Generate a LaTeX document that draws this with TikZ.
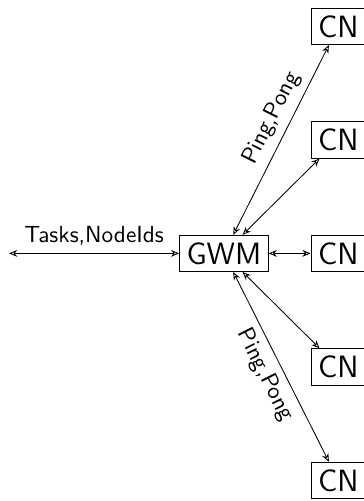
\documentclass[tikz,border=0pt]{standalone}
\usetikzlibrary{arrows.meta}

\begin{document}
\begin{tikzpicture}[
  font=\sffamily\fontsize{10.9}{13}\selectfont,
  box/.style={draw, font=\sffamily\Large},
  link/.style={{Stealth[open,length=3.8pt,width=3.2pt]}-{Stealth[open,length=3.8pt,width=3.2pt]}}
]
\useasboundingbox (-3.68,-4.07) rectangle (2.30,4.165);

% master
\node[box] (gwm) at (0,0) {GWM};

% compute nodes
\node[box] (cn1) at (1.88,3.73) {CN};
\node[box] (cn2) at (1.88,1.865) {CN};
\node[box] (cn3) at (1.88,0) {CN};
\node[box] (cn4) at (1.88,-1.865) {CN};
\node[box] (cn5) at (1.88,-3.73) {CN};

% incoming side
\coordinate (src) at (-3.53,0);
\draw[link] (src) -- node[above] {Tasks,NodeIds} (gwm);

% heartbeat links
\draw[link] (gwm) -- node[pos=0.57,above,sloped] {Ping,Pong} (cn1);
\draw[link] (gwm) -- (cn2);
\draw[link] (gwm) -- (cn3);
\draw[link] (gwm) -- (cn4);
\draw[link] (gwm) -- node[below,sloped] {Ping,Pong} (cn5);
\end{tikzpicture}
\end{document}
